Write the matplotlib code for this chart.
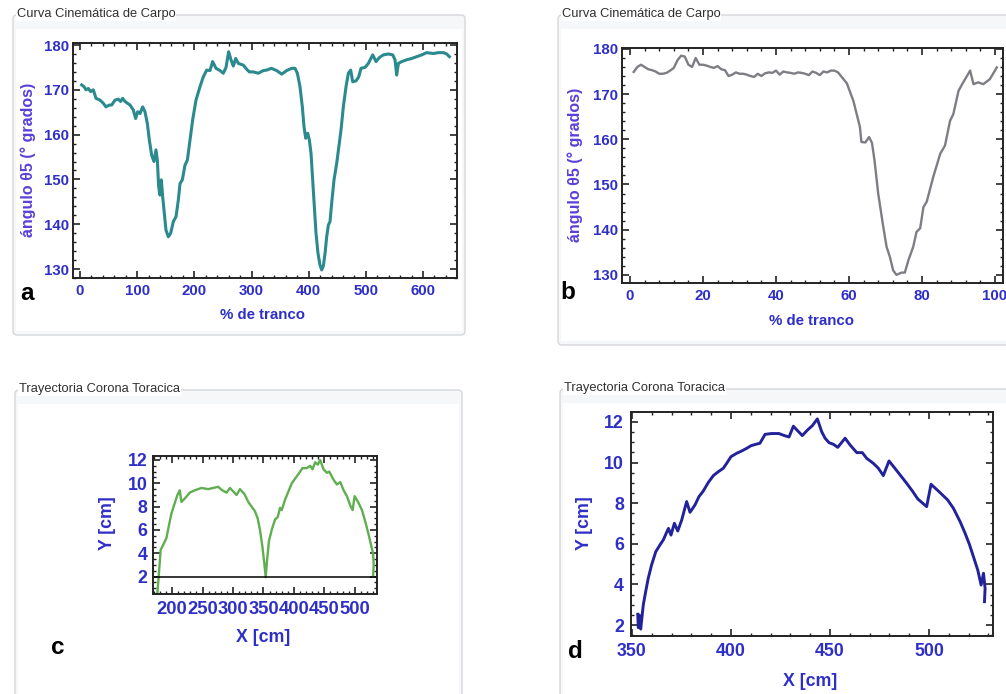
import matplotlib
matplotlib.use('Agg')
import matplotlib.pyplot as plt
from matplotlib.patches import FancyBboxPatch, Rectangle
from matplotlib.ticker import MultipleLocator

plt.rcParams['font.family'] = ['Liberation Sans', 'DejaVu Sans']

# ---------------- data ----------------
# Panel a: Curva Cinemática de Carpo (multi-stride)
a_x = [3, 7, 10.5, 14.6, 18.7, 23.3, 28, 35, 40.8, 45.5,
       51.3, 55.4, 61.2, 67, 71.1, 74.6, 78.7, 87.5, 93.3, 97.4,
       100.9, 105, 109.6, 113.7, 117.8, 121.3, 125.4, 129.4, 132.9, 135.3,
       137.6, 139.9, 142.3, 144.6, 147.5, 150.4, 154.5, 158.6, 163.3, 168,
       172, 175, 179, 183.7, 187.8, 192.4, 197.1, 202.9, 209.9, 215.7,
       221.6, 227.4, 232, 237.9, 244.9, 250.7, 255.4, 260, 264.1, 268.2,
       272.3, 276.9, 285.7, 291.5, 296.2, 303.2, 312, 320.7, 326.5, 334.7,
       344, 352.8, 361.5, 370.3, 376.1, 380.2, 384.8, 388.9, 391.8, 394.8,
       398.3, 401.2, 404.1, 407, 409.9, 412.8, 416.3, 419.8, 422.7, 425.7,
       428.6, 431.5, 434.4, 437.3, 440.2, 444.3, 449, 453.6, 456.6, 460.6,
       465.3, 469.4, 473.5, 477, 482.8, 487.5, 491.5, 498.5, 504.4, 512,
       517.8, 523.6, 530.6, 539.4, 547, 551, 553.9, 556.9, 562.7, 571.4,
       580.2, 588.9, 597.7, 606.4, 618.1, 626.8, 635.6, 641.4, 646.1]
a_y = [171.1, 170.7, 170.0, 170.3, 169.6, 170.0, 168.1, 167.7, 167.0, 166.2,
       166.6, 166.6, 167.7, 167.9, 167.4, 168.1, 167.4, 166.6, 165.5, 163.6,
       165.1, 164.7, 166.2, 165.1, 162.5, 158.8, 155.4, 154.0, 156.6, 154.3,
       148.4, 146.5, 149.9, 146.2, 142.4, 138.7, 137.2, 138.0, 140.6, 141.7,
       145.4, 149.1, 149.9, 153.2, 154.3, 158.8, 163.3, 167.7, 170.7, 172.9,
       174.4, 174.3, 176.3, 174.8, 174.3, 173.7, 175.0, 178.5, 176.7, 175.3,
       177.0, 175.9, 175.5, 174.6, 174.0, 174.0, 173.7, 174.3, 174.4, 174.8,
       174.3, 173.5, 174.3, 174.8, 174.8, 173.7, 170.7, 166.2, 161.8, 159.2,
       160.3, 158.8, 155.8, 149.9, 143.9, 138.0, 133.5, 130.9, 129.8, 130.7,
       133.5, 137.2, 139.8, 140.6, 144.7, 149.9, 153.6, 158.1, 161.1, 166.2,
       170.7, 173.7, 174.4, 171.8, 172.0, 172.9, 174.8, 175.0, 175.9, 177.8,
       176.3, 177.2, 177.8, 178.0, 177.8, 176.7, 173.3, 175.9, 176.3, 176.7,
       177.0, 177.4, 177.8, 178.3, 178.1, 178.3, 178.3, 178.0, 177.4]

# Panel b: Curva Cinemática de Carpo (one stride, %)
b_x = [1, 2, 3, 4, 5, 6, 7, 8, 9, 10,
       11, 12, 13, 14, 15, 16, 17, 18, 19, 20,
       21, 22, 23, 24, 25, 26, 27, 28, 29, 30,
       31, 32, 33, 34, 35, 36, 37, 38, 39, 40,
       41, 42, 43, 44, 45, 46, 47, 48, 49, 50,
       51, 52, 53, 54, 55, 56, 57, 58,
       59.4, 61.2, 63.0, 63.4, 64.5, 65.5, 66.3, 67.0, 68.0, 69.4,
       70.3, 71.2, 72.1, 73.0, 74.4, 75.3, 76.3, 77.6, 78.5, 79.5,
       80.4, 81.3, 83.1, 85.0, 86.3, 87.7, 88.6, 90.0, 91.3, 93.2,
       94.1, 95.4, 96.8, 98.6, 100.5]
b_y = [174.9, 176.0, 176.5, 176.0, 175.5, 175.3, 175.0, 174.5, 174.5, 174.7,
       175.2, 175.8, 177.5, 178.5, 178.3, 176.5, 176.0, 178.0, 176.5, 176.5,
       176.3, 176.0, 175.8, 176.2, 175.5, 175.3, 174.0, 174.3, 174.8, 174.5,
       174.5, 174.3, 174.0, 173.8, 174.5, 174.0, 174.6, 174.8, 174.7, 175.2,
       174.3, 175.0, 174.8, 174.7, 174.5, 174.8, 174.7, 174.5, 174.2, 175.0,
       174.7, 174.2, 175.0, 174.8, 175.2, 175.2, 174.8, 173.8,
       172.4, 168.5, 162.7, 159.4, 159.3, 160.5, 159.2, 155.3, 148.0, 140.6,
       136.2, 134.0, 131.0, 130.0, 130.5, 130.5, 133.3, 136.2, 139.5, 140.3,
       145.0, 146.2, 151.7, 156.8, 158.6, 164.1, 165.6, 170.7, 172.6, 175.2,
       172.2, 172.6, 172.2, 173.3, 175.9]

# Panel c: Trayectoria Corona Toracica (two strides)
c_x = [175.9, 178.0, 181.3, 185.2, 190.7, 194.5, 198.9, 204.4, 208.8, 212.6,
       215.4, 220.9, 229.1, 237.3, 248.3, 259.3, 267.5, 275.7, 282.3, 289.5,
       295.0, 300.4, 305.9, 311.4, 318.6, 325.1, 330.6, 336.1, 340.5, 344.3,
       348.2, 351.5, 353.7, 355.9, 359.2, 363.6, 369.0, 373.4, 377.3, 380.0,
       385.5, 391.0, 396.5, 402.0, 407.5, 414.0, 421.2, 426.7, 430.5, 434.9,
       439.3, 443.1, 448.6, 454.1, 458.0, 465.1, 470.6, 476.1, 481.6, 487.0,
       492.5, 496.4, 499.7, 506.3, 511.7, 517.2, 522.7, 527.1, 529.9, 531.0, 529.9]
c_y = [0.57, 2.0, 4.3, 4.7, 5.3, 6.3, 7.4, 8.3, 9.0, 9.4,
       8.4, 8.7, 9.2, 9.4, 9.6, 9.5, 9.6, 9.7, 9.4, 9.2,
       9.6, 9.3, 9.0, 9.5, 9.1, 8.4, 8.0, 7.6, 7.0, 6.0,
       4.6, 3.1, 1.95, 3.4, 5.1, 6.0, 6.9, 7.1, 7.9, 7.7,
       8.6, 9.3, 10.0, 10.4, 10.8, 11.3, 11.3, 11.5, 11.2, 11.8,
       11.6, 12.0, 11.2, 10.9, 11.0, 10.3, 9.9, 10.1, 9.4, 8.9,
       8.1, 7.7, 8.9, 8.3, 7.7, 6.7, 5.6, 4.6, 4.0, 3.0, 2.0]
c_ground = 2.0

# Panel d: Trayectoria Corona Toracica (one stride)
d_x = [352.9, 353.2, 353.7, 354.4, 355.7, 356.9, 358.2, 359.9, 362.0, 364.1,
       365.8, 368.4, 369.7, 371.4, 373.1, 375.1, 377.6, 379.3, 381.8, 383.8,
       386.0, 388.6, 391.1, 393.6, 396.1, 397.8, 400.0, 402.9, 405.4, 407.9,
       410.1, 412.5, 414.6, 417.2, 420.5, 424.2, 426.9, 429.3, 431.5, 433.7,
       436.0, 438.7, 441.1, 443.6, 445.8, 447.5, 449.5, 451.7, 453.9, 457.6,
       460.1, 463.5, 466.3, 468.5, 471.9, 474.4, 476.9, 479.8, 482.5, 485.4,
       488.7, 491.6, 494.3, 498.8, 501.0, 504.7, 509.4, 512.3, 515.7, 518.2,
       520.4, 522.4, 524.6, 526.3, 527.5, 528.3, 528.0]
d_y = [2.53, 1.87, 2.49, 1.80, 2.99, 3.64, 4.30, 4.96, 5.61, 5.94,
       6.19, 6.76, 6.43, 7.01, 6.63, 7.17, 8.08, 7.55, 7.91, 8.32,
       8.60, 9.03, 9.36, 9.55, 9.72, 9.96, 10.29, 10.46, 10.57, 10.70,
       10.83, 10.90, 10.95, 11.39, 11.43, 11.43, 11.33, 11.26, 11.79, 11.56,
       11.33, 11.61, 11.82, 12.15, 11.52, 11.20, 10.98, 10.90, 10.75, 11.20,
       10.87, 10.49, 10.49, 10.21, 9.96, 9.72, 9.36, 10.08, 9.75, 9.39,
       8.98, 8.60, 8.21, 7.83, 8.93, 8.60, 8.16, 7.75, 7.09, 6.52,
       5.97, 5.37, 4.71, 3.97, 4.55, 3.81, 3.15]

ab_title = "Curva Cinemática de Carpo"
cd_title = "Trayectoria Corona Toracica"
ab_ylabel = "ángulo θ5 (° grados)"
ab_xlabel = "% de tranco"
cd_ylabel = "Y [cm]"
cd_xlabel = "X [cm]"

# ---------------- figure ----------------
W, H = 1006, 694
fig = plt.figure(figsize=(W / 100, H / 100), dpi=100)
fig.patch.set_facecolor('white')

bg = fig.add_axes([0, 0, 1, 1], zorder=0)
bg.set_xlim(0, W)
bg.set_ylim(H, 0)
bg.axis('off')

TICK_C = '#2e2ec8'
YLAB_C = '#5b3fd8'


def frame(x0, y0, x1, y1, title):
    bg.add_patch(FancyBboxPatch((x0, y0), x1 - x0, y1 - y0,
                                boxstyle='round,pad=0,rounding_size=4',
                                fc='#f6f7f9', ec='#d4d7db', lw=1.0))
    bg.add_patch(Rectangle((x0 + 3, y0 + 14), x1 - x0 - 6, y1 - y0 - 18,
                           fc='white', ec='none'))
    bg.text(x0 + 4, y0 - 1, title, fontsize=9.3, color='#303030',
            va='center', ha='left',
            bbox=dict(fc='white', ec='none', pad=0.5))


frame(13, 15, 465, 335, ab_title)
frame(558, 15, 1020, 345, ab_title)
frame(15, 390, 462, 710, cd_title)
frame(560, 389, 1020, 710, cd_title)


def mkax(px0, py0, px1, py1):
    ax = fig.add_axes([px0 / W, 1 - py1 / H, (px1 - px0) / W, (py1 - py0) / H], zorder=2)
    ax.set_facecolor('white')
    return ax


def style(ax, xt, yt, xminor, yminor, xfs, yfs, xpad, ypad):
    for s in ax.spines.values():
        s.set_linewidth(1.4)
        s.set_color('#222222')
    ax.set_xticks(xt)
    ax.set_xticklabels([str(v) for v in xt], fontsize=xfs, fontweight='bold', color=TICK_C)
    ax.set_yticks(yt)
    ax.set_yticklabels([str(v) for v in yt], fontsize=yfs, fontweight='bold', color=TICK_C)
    ax.xaxis.set_minor_locator(MultipleLocator(xminor))
    ax.yaxis.set_minor_locator(MultipleLocator(yminor))
    ax.tick_params(which='both', direction='in', top=True, right=True, color='#222222')
    ax.tick_params(which='major', length=5, width=1.2)
    ax.tick_params(which='minor', length=2.5, width=1.0)
    ax.tick_params(axis='x', which='major', pad=xpad)
    ax.tick_params(axis='y', which='major', pad=ypad)


# Panel a
axa = mkax(73, 43, 457, 278)
axa.plot(a_x, a_y, color='#2a8a8e', lw=2.2, solid_joinstyle='round')
axa.set_xlim(-12.2, 659.4)
axa.set_ylim(128.0, 180.45)
style(axa, [0, 100, 200, 300, 400, 500, 600], [130, 140, 150, 160, 170, 180], 20, 2, 10.8, 10.8, 4, 3)

# Panel b
axb = mkax(622, 48, 1003, 283)
axb.plot(b_x, b_y, color='#7d7e84', lw=1.7, solid_joinstyle='round')
axb.set_xlim(-2.2, 102.2)
axb.set_ylim(128.2, 180.2)
style(axb, [0, 20, 40, 60, 80, 100], [130, 140, 150, 160, 170, 180], 4, 2, 10.8, 10.8, 4, 3)

# Panel c
axc = mkax(153, 456, 377, 594)
axc.plot(c_x, c_y, color='#5fae4f', lw=1.7, solid_joinstyle='round')
axc.axhline(c_ground, color='black', lw=1.1)
axc.set_xlim(168.7, 536.4)
axc.set_ylim(0.51, 12.34)
style(axc, [200, 250, 300, 350, 400, 450, 500], [2, 4, 6, 8, 10, 12], 10, 0.5, 13.2, 12.8, 5, 4)

# Panel d
axd = mkax(631, 412, 993, 636)
axd.plot(d_x, d_y, color='#22229a', lw=2.1, solid_joinstyle='round')
axd.set_xlim(349.5, 532.3)
axd.set_ylim(1.46, 12.49)
style(axd, [350, 400, 450, 500], [2, 4, 6, 8, 10, 12], 10, 0.5, 12.8, 12.8, 5, 5)

# axis labels
bg.text(263, 315, ab_xlabel, fontsize=10.8, fontweight='bold', color=TICK_C, ha='center', va='center')
bg.text(28, 160, ab_ylabel, fontsize=11.5, fontweight='bold', color=YLAB_C, ha='center', va='center', rotation=90)
bg.text(812, 321, ab_xlabel, fontsize=10.8, fontweight='bold', color=TICK_C, ha='center', va='center')
bg.text(575, 165, ab_ylabel, fontsize=11.5, fontweight='bold', color=YLAB_C, ha='center', va='center', rotation=90)
bg.text(263, 638, cd_xlabel, fontsize=12.8, fontweight='bold', color=TICK_C, ha='center', va='center')
bg.text(108, 523, cd_ylabel, fontsize=12.8, fontweight='bold', color=TICK_C, ha='center', va='center', rotation=90)
bg.text(810, 682, cd_xlabel, fontsize=12.8, fontweight='bold', color=TICK_C, ha='center', va='center')
bg.text(585, 523, cd_ylabel, fontsize=12.8, fontweight='bold', color=TICK_C, ha='center', va='center', rotation=90)

# panel letters
for (px, py, s) in [(27, 293, 'a'), (568, 292, 'b'), (58, 648, 'c'), (575, 651, 'd')]:
    bg.text(px, py, s, fontsize=17.5, fontweight='bold', color='black', ha='center', va='center')

fig.savefig('out.png', dpi=100, facecolor='white')
